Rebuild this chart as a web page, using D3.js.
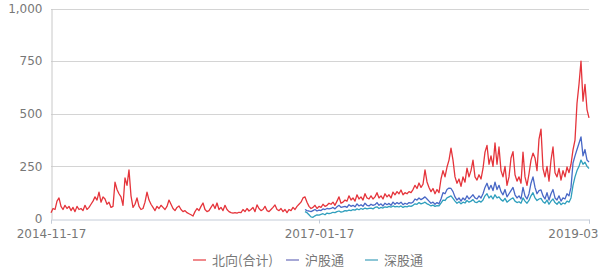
<!DOCTYPE html>
<html>
<head>
<meta charset="utf-8">
<script src="https://cdn.jsdelivr.net/npm/d3@7"></script>
<style>
  html, body { margin: 0; padding: 0; background: #fff; }
  svg { display: block; }
</style>
</head>
<body>
<svg id="chart" width="600" height="275"></svg>
<script>
// Northbound daily turnover, one sample per two trading days
const northbound = [
  30,50,45,85,100,60,45,65,50,60,
  40,55,35,60,45,50,40,65,45,55,
  70,85,105,90,128,80,105,95,70,80,
  55,60,175,140,120,105,65,195,160,233,
  110,55,70,100,60,45,50,80,128,90,
  70,55,40,60,50,65,55,45,60,90,
  70,50,40,55,62,45,35,40,30,25,
  20,14,35,50,40,60,76,45,35,40,
  55,70,50,76,45,55,40,65,45,35,
  30,28,30,28,32,30,45,35,50,38,
  45,55,35,67,50,40,45,60,40,35,
  45,55,67,45,40,50,35,45,30,45,
  40,55,45,60,70,80,100,105,80,60,
  50,55,65,50,60,55,70,60,65,75,
  70,80,65,85,105,75,80,90,85,110,
  90,100,85,115,95,105,90,120,100,95,
  110,95,105,125,100,110,95,120,105,115,
  100,128,115,130,120,138,115,125,120,130,
  125,140,160,145,171,150,165,233,176,150,
  130,145,120,140,125,190,230,200,247,280,
  337,280,200,170,190,155,200,175,242,200,
  230,280,200,185,210,190,240,318,350,260,
  300,250,361,260,342,230,200,250,160,200,
  290,320,210,180,200,170,318,200,160,215,
  280,313,290,230,380,427,240,200,250,180,
  280,342,220,200,240,185,230,200,247,220,
  260,328,375,550,640,750,560,640,520,480
];

// Shanghai and Shenzhen connect series begin at this sample
const connectStart = 127;

const shanghai = [
  45,40,38,35,40,45,38,42,40,48,45,50,48,
  50,55,48,58,65,55,58,60,55,68,
  60,65,58,72,62,68,60,75,65,62,
  70,65,68,78,65,72,62,75,68,74,
  65,80,70,78,72,80,68,75,70,78,
  75,80,95,90,100,92,98,105,95,85,
  75,80,70,78,72,95,125,120,140,147,
  145,130,105,90,100,85,100,90,110,95,
  105,115,100,95,110,100,120,150,170,140,
  160,135,175,140,160,130,115,140,105,120,
  135,150,115,100,110,95,150,110,95,120,
  170,200,150,120,135,138,110,95,125,90,
  120,140,100,90,110,85,100,95,120,110,
  150,266,300,330,360,390,300,330,280,270
];

const shenzhen = [
  35,30,20,10,8,15,20,18,22,25,20,28,25,
  28,32,30,35,38,33,35,40,38,42,
  40,45,42,48,44,50,46,52,48,50,
  52,48,55,58,50,55,52,58,55,60,
  56,62,58,60,57,62,55,60,58,62,
  60,65,72,70,78,72,75,80,72,68,
  62,66,60,64,62,75,90,88,100,105,
  110,98,85,75,82,72,80,76,88,80,
  85,92,80,78,86,80,90,110,120,100,
  110,95,115,100,105,92,85,98,80,88,
  95,100,85,78,82,75,100,85,75,88,
  110,125,100,88,95,98,82,75,90,70,
  85,95,78,70,82,68,76,72,85,80,
  100,160,200,230,250,280,260,270,250,240
];

const xTickLabels = ["2014-11-17", "2017-01-17", "2019-03"];
const xTickIndex = [0, 134, 269];
const yTicks = [0, 250, 500, 750, 1000];
const seriesNames = ["北向(合计)", "沪股通", "深股通"];

const svg = d3.select("#chart");
const plot = { left: 51, right: 589, top: 8.5, bottom: 219 };

const x = d3.scaleLinear().domain([0, northbound.length - 1]).range([plot.left, plot.right]);
const y = d3.scaleLinear().domain([0, 1000]).range([plot.bottom, plot.top]);

// horizontal grid
svg.append("g")
  .selectAll("line")
  .data(yTicks.filter(d => d > 0))
  .join("line")
  .attr("x1", plot.left).attr("x2", plot.right)
  .attr("y1", d => Math.round(y(d)) + 0.5).attr("y2", d => Math.round(y(d)) + 0.5)
  .attr("stroke", "#d4d4d4").attr("stroke-width", 1);

// y axis
const yAxis = d3.axisLeft(y).tickValues(yTicks).tickSize(0).tickPadding(9)
  .tickFormat(d3.format(","));
const gy = svg.append("g").attr("transform", `translate(${plot.left + 0.5},0)`).call(yAxis);
gy.select(".domain").attr("stroke", "#c8c8c8");
gy.selectAll("text").attr("fill", "#777").attr("font-size", 12)
  .attr("font-family", "DejaVu Sans, sans-serif");

// x axis
const xAxis = d3.axisBottom(x).tickValues(xTickIndex).tickSize(4).tickPadding(6)
  .tickFormat((d, i) => xTickLabels[i]);
const gx = svg.append("g").attr("transform", `translate(0,${Math.round(plot.bottom) + 0.5})`).call(xAxis);
gx.select(".domain").attr("stroke", "#c4ccd8");
gx.selectAll(".tick line").attr("stroke", "#c4ccd8");
gx.selectAll("text").attr("fill", "#777").attr("font-size", 12)
  .attr("font-family", "DejaVu Sans, sans-serif");
// keep the last date label inside the frame
gx.selectAll(".tick").filter((d, i) => i === xTickIndex.length - 1)
  .select("text").attr("text-anchor", "end").attr("x", 9);

const line = d3.line().x(d => x(d[0])).y(d => y(d[1]));
const toPoints = (arr, start) => arr.map((v, i) => [i + start, v]);

const series = [
  { data: toPoints(northbound, 0), color: "#e5343b", legend: "#f0898c" },
  { data: toPoints(shanghai, connectStart), color: "#4868c6", legend: "#a6a8d6" },
  { data: toPoints(shenzhen, connectStart), color: "#2f9fbd", legend: "#8cc6d6" }
];

svg.append("g")
  .selectAll("path")
  .data(series)
  .join("path")
  .attr("d", d => line(d.data))
  .attr("fill", "none")
  .attr("stroke", d => d.color)
  .attr("stroke-width", 1.3)
  .attr("stroke-linejoin", "round");

// legend
const legendX = [193, 286, 365];
const lg = svg.append("g").selectAll("g")
  .data(series)
  .join("g")
  .attr("transform", (d, i) => `translate(${legendX[i]},260)`);
lg.append("line").attr("x1", 0).attr("x2", 13).attr("y1", 0).attr("y2", 0)
  .attr("stroke", d => d.legend).attr("stroke-width", 2);
lg.append("text").attr("x", 19).attr("y", 0).attr("dy", "0.35em")
  .attr("fill", "#777").attr("font-size", 13)
  .attr("font-family", "Noto Sans CJK SC, sans-serif")
  .text((d, i) => seriesNames[i]);
</script>
</body>
</html>
